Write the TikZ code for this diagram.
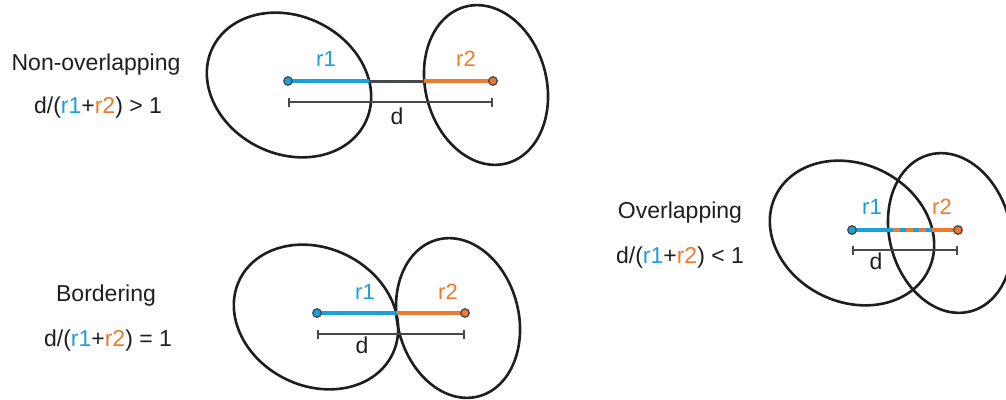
\documentclass[tikz,border=0pt]{standalone}
\usepackage{fontspec}
\setmainfont{Liberation Sans}
\usetikzlibrary{arrows.meta}
\definecolor{rblue}{RGB}{27,160,222}
\definecolor{rorange}{RGB}{238,122,48}
\definecolor{ink}{RGB}{30,30,30}
\definecolor{dgray}{RGB}{70,74,78}

\begin{document}
\begin{tikzpicture}[x=1pt,y=-1pt,
  blob/.style={draw=ink,line width=2.6pt},
  seg/.style={line width=3.8pt},
  dot/.style={circle,draw=dgray,line width=1.3pt,inner sep=0pt,minimum size=8.5pt},
  dbar/.style={draw=dgray,line width=1.6pt,{Bar[width=9pt]}-{Bar[width=9pt]}},
  lbl/.style={font=\fontsize{23}{27}\selectfont,text=ink,inner sep=0pt,anchor=base},
  rlbl/.style={font=\fontsize{22}{26}\selectfont,inner sep=0pt,anchor=base}]

\useasboundingbox (0,0) rectangle (1006,399);

% Non-overlapping
\node[lbl] (nonlap) at (96,70) {Non-overlapping};
\node[lbl] (nonlapf) at (98,113) {d/(\textcolor{rblue}{r1}+\textcolor{rorange}{r2}) > 1};

\draw[blob] (289,85) ellipse [x radius=85, y radius=69, rotate=-26];
\draw[blob] (486,85) ellipse [x radius=60.5, y radius=81, rotate=14.7];

\coordinate (ca) at (288,81);
\coordinate (cb) at (493,81);
\coordinate (ea) at (369,81);
\coordinate (eb) at (424,81);
\draw[seg,rblue] (ca) -- (ea);
\draw[seg,dgray,line width=3pt] (ea) -- (eb);
\draw[seg,rorange] (eb) -- (cb);
\node[dot,fill=rblue] (dota) at (ca) {};
\node[dot,fill=rorange] (dotb) at (cb) {};

\coordinate (la) at (288,102);
\coordinate (ra) at (493,102);
\draw[dbar] (la) -- (ra);
\node[rlbl,rblue] (r1a) at (326,66) {r1};
\node[rlbl,rorange] (r2a) at (466,66) {r2};
\node[lbl] (da) at (397,124) {d};

% Bordering
\node[lbl] (border) at (106,301) {Bordering};
\node[lbl] (borderf) at (108,346) {d/(\textcolor{rblue}{r1}+\textcolor{rorange}{r2}) = 1};

\draw[blob] (316,317) ellipse [x radius=85, y radius=69, rotate=-26];
\draw[blob] (458,318) ellipse [x radius=60.5, y radius=81, rotate=14.7];

\coordinate (cc) at (317,313);
\coordinate (cd) at (465,313);
\coordinate (ec) at (397,313);
\draw[seg,rblue] (cc) -- (ec);
\draw[seg,rorange] (ec) -- (cd);
\node[dot,fill=rblue] (dotc) at (cc) {};
\node[dot,fill=rorange] (dotd) at (cd) {};

\coordinate (lb) at (317,334);
\coordinate (rb) at (465,334);
\draw[dbar] (lb) -- (rb);
\node[rlbl,rblue] (r1b) at (365,299) {r1};
\node[rlbl,rorange] (r2b) at (448,299) {r2};
\node[lbl] (db) at (362,353) {d};

% Overlapping
\node[lbl] (overlap) at (680,218) {Overlapping};
\node[lbl] (overlapf) at (680,263) {d/(\textcolor{rblue}{r1}+\textcolor{rorange}{r2}) < 1};

\draw[blob] (852,233) ellipse [x radius=85, y radius=69, rotate=-26];
\draw[blob] (950,233) ellipse [x radius=60.5, y radius=81, rotate=14.7];

\coordinate (ce) at (852,230);
\coordinate (cf) at (958,230);
\coordinate (ee) at (893,230);
\coordinate (ef) at (932,230);
\draw[seg,rblue] (ce) -- (ef);
\draw[seg,rorange,dash pattern=on 6.5pt off 6.5pt] (ee) -- (ef);
\draw[seg,rorange] (ef) -- (cf);
\node[dot,fill=rblue] (dote) at (ce) {};
\node[dot,fill=rorange] (dotf) at (cf) {};

\coordinate (lc) at (852,250);
\coordinate (rc) at (958,250);
\draw[dbar] (lc) -- (rc);
\node[rlbl,rblue] (r1c) at (872,214) {r1};
\node[rlbl,rorange] (r2c) at (942,214) {r2};
\node[lbl] (dc) at (876,269) {d};

\end{tikzpicture}
\end{document}
